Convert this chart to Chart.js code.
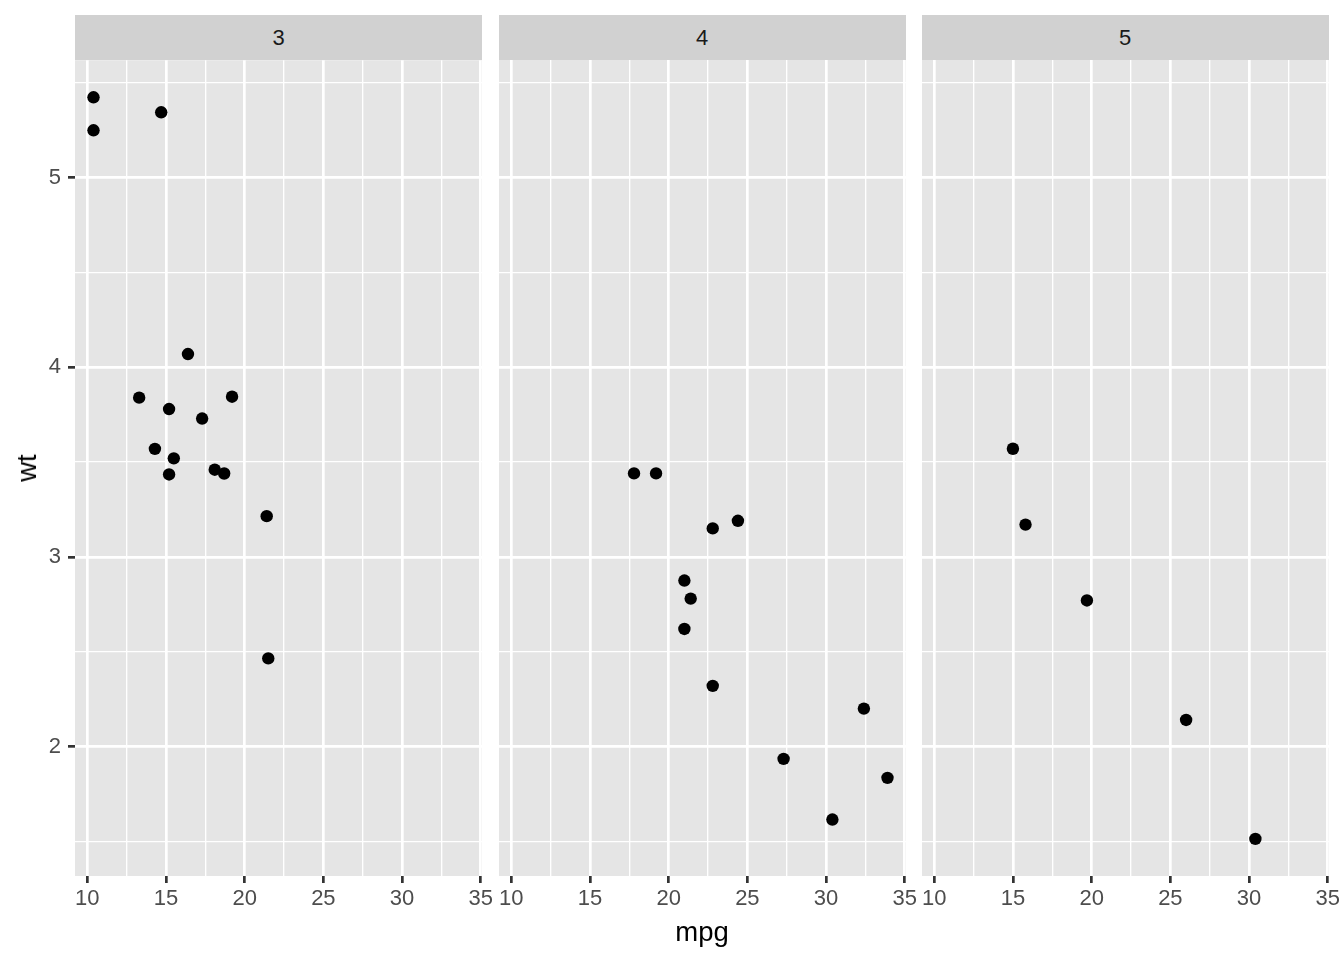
<!DOCTYPE html>
<html>
<head>
<meta charset="utf-8">
<script src="https://cdn.jsdelivr.net/npm/chart.js@4.4.1/dist/chart.umd.min.js"></script>
<style>
  html, body { margin: 0; padding: 0; background: #ffffff; }
  body { width: 1344px; height: 960px; position: relative; overflow: hidden;
         font-family: 'Liberation Sans', Arial, Helvetica, sans-serif; }
  .strip { position: absolute; top: 15px; height: 45px; background: #D1D1D1;
           color: #1A1A1A; font-size: 22px; display: flex; align-items: center; justify-content: center; }
  .cv { position: absolute; }
  .title { position: absolute; color: #000000; font-size: 27.5px; white-space: nowrap; }
</style>
</head>
<body>
<div id="root"></div>
<script>
// ---- data (mtcars, faceted by gear) ----
const facetLabels = ["3", "4", "5"];
const gear3Mpg = [21.4, 18.7, 18.1, 14.3, 16.4, 17.3, 15.2, 10.4, 10.4, 14.7, 21.5, 15.5, 15.2, 13.3, 19.2];
const gear3Wt  = [3.215, 3.44, 3.46, 3.57, 4.07, 3.73, 3.78, 5.25, 5.424, 5.345, 2.465, 3.52, 3.435, 3.84, 3.845];
const gear4Mpg = [21.0, 21.0, 22.8, 24.4, 22.8, 19.2, 17.8, 32.4, 30.4, 33.9, 27.3, 21.4];
const gear4Wt  = [2.62, 2.875, 2.32, 3.19, 3.15, 3.44, 3.44, 2.2, 1.615, 1.835, 1.935, 2.78];
const gear5Mpg = [26.0, 30.4, 15.8, 19.7, 15.0];
const gear5Wt  = [2.14, 1.513, 3.17, 2.77, 3.57];
const xMajorTicks = [10, 15, 20, 25, 30, 35];
const xMinorTicks = [12.5, 17.5, 22.5, 27.5, 32.5];
const yMajorTicks = [2, 3, 4, 5];
const yMinorTicks = [1.5, 2.5, 3.5, 4.5, 5.5];
const xTitle = "mpg";
const yTitle = "wt";

const facetMpg = [gear3Mpg, gear4Mpg, gear5Mpg];
const facetWt = [gear3Wt, gear4Wt, gear5Wt];

// shared scales with ggplot-like 5% expansion
const allMpg = facetMpg.flat(), allWt = facetWt.flat();
function expand(arr) {
  const lo = Math.min(...arr), hi = Math.max(...arr), d = (hi - lo) * 0.05;
  return [lo - d, hi + d];
}
const [xMin, xMax] = expand(allMpg);
const [yMin, yMax] = expand(allWt);

// ---- layout ----
const panelLeft = [75, 498.5, 921.5];
const panelWidth = 407;
const panelTop = 60, panelBottom = 876;
const PAD = 30;
const MAJOR_W = 2.7, MINOR_W = 1.35;

Chart.defaults.font.family = "'Liberation Sans', Arial, Helvetica, sans-serif";
Chart.defaults.font.size = 22;
Chart.defaults.color = '#4D4D4D';

const root = document.getElementById('root');

const bgPlugin = {
  id: 'panelBg',
  beforeDraw(chart) {
    const {ctx, chartArea: a} = chart;
    ctx.save();
    ctx.fillStyle = '#E5E5E5';
    ctx.fillRect(a.left, a.top, a.right - a.left, a.bottom - a.top);
    ctx.restore();
  }
};

function isMajor(v, majors) { return majors.some(m => Math.abs(m - v) < 1e-9); }

facetLabels.forEach((lab, i) => {
  const strip = document.createElement('div');
  strip.className = 'strip';
  strip.style.left = panelLeft[i] + 'px';
  strip.style.width = panelWidth + 'px';
  strip.textContent = lab;
  root.appendChild(strip);

  const first = i === 0;
  const leftSpace = first ? panelLeft[0] : PAD;
  const canvasLeft = panelLeft[i] - leftSpace;
  const canvasTop = panelTop - 20;
  const cw = leftSpace + panelWidth + PAD;
  const ch = 960 - canvasTop;
  const xAxisH = ch - 20 - (panelBottom - panelTop);

  const canvas = document.createElement('canvas');
  canvas.className = 'cv';
  canvas.width = cw; canvas.height = ch;
  canvas.style.left = canvasLeft + 'px';
  canvas.style.top = canvasTop + 'px';
  canvas.style.width = cw + 'px';
  canvas.style.height = ch + 'px';
  root.appendChild(canvas);

  const pts = facetMpg[i].map((m, k) => ({x: m, y: facetWt[i][k]}));

  new Chart(canvas, {
    type: 'scatter',
    data: { datasets: [{ data: pts, backgroundColor: '#000000', borderWidth: 0, pointRadius: 6.2, pointHoverRadius: 6.2 }] },
    plugins: [bgPlugin],
    options: {
      responsive: false,
      animation: false,
      events: [],
      layout: { autoPadding: false, padding: { top: 20, bottom: 0, left: first ? 0 : PAD, right: PAD } },
      plugins: { legend: { display: false }, tooltip: { enabled: false } },
      scales: {
        x: {
          type: 'linear', min: xMin, max: xMax,
          afterBuildTicks: s => { s.ticks = [...xMajorTicks, ...xMinorTicks].sort((a, b) => a - b).map(v => ({value: v})); },
          afterFit: s => { s.height = xAxisH; },
          border: { display: false },
          grid: {
            color: '#FFFFFF',
            lineWidth: c => isMajor(c.tick.value, xMajorTicks) ? MAJOR_W : MINOR_W,
            tickColor: c => isMajor(c.tick.value, xMajorTicks) ? '#333333' : 'rgba(0,0,0,0)',
            tickWidth: MAJOR_W,
            tickLength: 7,
          },
          ticks: {
            autoSkip: false, maxRotation: 0, minRotation: 0, padding: 3,
            color: '#4D4D4D', font: { size: 22 },
            callback: v => isMajor(v, xMajorTicks) ? String(v) : ''
          }
        },
        y: {
          type: 'linear', min: yMin, max: yMax,
          afterBuildTicks: s => { s.ticks = [...yMajorTicks, ...yMinorTicks].sort((a, b) => a - b).map(v => ({value: v})); },
          afterFit: s => { s.width = first ? panelLeft[0] : 0; },
          border: { display: false },
          grid: {
            color: '#FFFFFF',
            lineWidth: c => isMajor(c.tick.value, yMajorTicks) ? MAJOR_W : MINOR_W,
            drawTicks: first,
            tickColor: c => isMajor(c.tick.value, yMajorTicks) ? '#333333' : 'rgba(0,0,0,0)',
            tickWidth: MAJOR_W,
            tickLength: 7,
          },
          ticks: {
            display: first, autoSkip: false, padding: 7,
            color: '#4D4D4D', font: { size: 22 },
            callback: v => isMajor(v, yMajorTicks) ? String(v) : ''
          }
        }
      }
    }
  });
});

const xt = document.createElement('div');
xt.className = 'title';
xt.textContent = xTitle;
xt.style.left = '702px'; xt.style.top = '932px';
xt.style.transform = 'translate(-50%, -50%)';
root.appendChild(xt);

const yt = document.createElement('div');
yt.className = 'title';
yt.textContent = yTitle;
yt.style.left = '27px'; yt.style.top = '468px';
yt.style.transform = 'translate(-50%, -50%) rotate(-90deg)';
root.appendChild(yt);
</script>
</body>
</html>
